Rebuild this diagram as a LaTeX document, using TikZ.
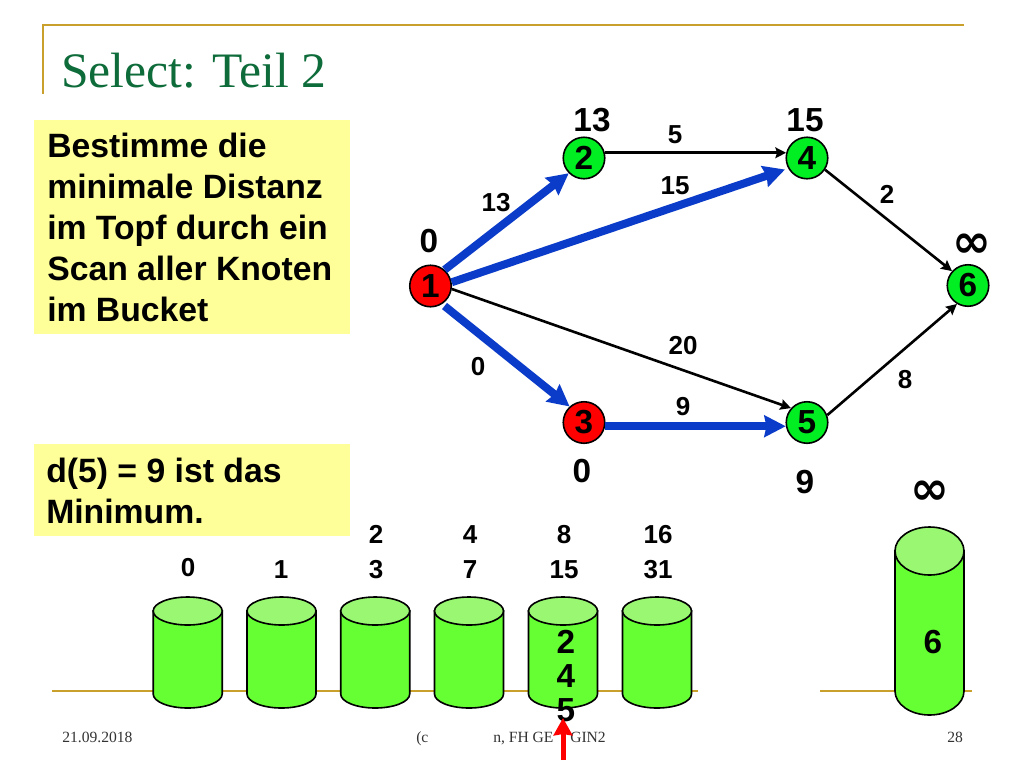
\documentclass[tikz,border=0pt]{standalone}
\usepackage{fontspec}
\setmainfont{Liberation Sans}
\newfontfamily\seriffam{Liberation Serif}
\newfontfamily\symfam{DejaVu Sans}
\usetikzlibrary{arrows.meta,calc}
\definecolor{gold}{HTML}{C9A02C}
\definecolor{titlegreen}{HTML}{0E6B3A}
\definecolor{noteyellow}{HTML}{FFFF99}
\definecolor{drumbody}{HTML}{66FF33}
\definecolor{drumtop}{HTML}{99F772}
\definecolor{nodegreen}{HTML}{00EE22}
\definecolor{edgeblue}{HTML}{0B3CC9}
\tikzset{
  gline/.style={draw=gold,line width=2.8*0.75pt},
  notebox/.style={fill=noteyellow,anchor=north west,inner sep=0pt,minimum width=316*0.75pt},
  notetext/.style={anchor=north west,inner sep=0pt,align=left,font=\fontsize{25.3}{30.75}\selectfont\bfseries},
  vertex/.style={circle,draw=black,line width=1.6*0.75pt,minimum size=41.5*0.75pt,inner sep=0pt,font=\fontsize{25}{25}\selectfont\bfseries},
  redv/.style={vertex,fill=red},
  greenv/.style={vertex,fill=nodegreen},
  distlab/.style={inner sep=0pt,font=\fontsize{25}{25}\selectfont\bfseries},
  weightlab/.style={inner sep=0pt,font=\fontsize{19.5}{19.5}\selectfont\bfseries},
  rangelab/.style={inner sep=0pt,align=center,font=\fontsize{19.5}{26.2}\selectfont\bfseries},
  inflab/.style={inner sep=0pt,font=\fontsize{35}{35}\symfam\bfseries\selectfont},
  thin edge/.style={draw=black,line width=2.6*0.75pt,-{Stealth[length=8pt,width=8pt,inset=1.2pt]}},
  blue edge/.style={draw=edgeblue,line width=8*0.75pt,-{Stealth[length=16pt,width=16pt,inset=1.5pt]}},
  drumline/.style={draw=black,line width=1.6*0.75pt},
  footlab/.style={inner sep=0pt,anchor=base west,font=\fontsize{11.7}{12}\seriffam\selectfont,text=black!80},
}
% #1 centre x, #2 top of the lid, #3 bottom, #4 half width, #5 half height of the lid
\newcommand{\drumshape}[5]{
  \path[fill=drumbody,drumline] (#1-#4,#2+#5) -- (#1-#4,#3-#5) arc[start angle=180,end angle=0,x radius=#4,y radius=#5] -- (#1+#4,#2+#5) -- cycle;
  \path[fill=drumtop,drumline] (#1,#2+#5) ellipse[x radius=#4,y radius=#5];
}
\begin{document}
\begin{tikzpicture}[x=0.75pt,y=-0.75pt]
\useasboundingbox (0,0) rectangle (1024,768);
\fill[white] (0,0) rectangle (1024,768);
% slide frame
\draw[gline] (43,94) -- (43,25) -- (964,25);
\draw[gline] (52,691) -- (698,691);
\draw[gline] (820,691) -- (972,691);
\node[inner sep=0pt,anchor=base west,text=titlegreen,font=\fontsize{37.2}{38}\seriffam\selectfont] (title) at (61,87) {Select: Teil 2};
% footer
\node[footlab] (fdate) at (62,742) {21.09.2018};
\node[footlab] (fa) at (416,742) {(c};
\node[footlab] (fb) at (493,742) {n, FH GE};
\node[footlab] (fc) at (570,742) {GIN2};
\node[footlab] (fnum) at (947,742) {28};
% notes
\node[notebox,minimum height=214*0.75pt] (note1box) at (34,120) {};
\node[notetext] (note1) at (47,133) {Bestimme die\\minimale Distanz\\im Topf durch ein\\Scan aller Knoten\\im Bucket};
\node[notebox,minimum height=92*0.75pt] (note2box) at (34,444) {};
\node[notetext] (note2) at (46,458) {d(5) = 9 ist das\\Minimum.};
% graph
\node[redv] (n1) at (430.5,286) {1};
\node[greenv] (n2) at (584,158) {2};
\node[redv] (n3) at (584,422.5) {3};
\node[greenv] (n4) at (807,158) {4};
\node[greenv] (n5) at (807,422.5) {5};
\node[greenv] (n6) at (968,285.5) {6};
\draw[blue edge] (n1.49) -- (n2.225);
\draw[blue edge,shorten >=2.5pt] (n1.10) -- (n4.209);
\draw[blue edge] ($(n1)+(14,20)$) -- (n3.132);
\draw[blue edge] (n3.-10) -- (n5.190);
\draw[thin edge] (n2.14) -- (n4.166);
\draw[thin edge] (n1.-8) -- (n5.138);
\draw[thin edge] (n4.-33) -- (n6.138);
\draw[thin edge] (n5.20) -- (n6.239);
% distances
\node[distlab] (d1) at (429,241) {0};
\node[distlab] (d2) at (592,120) {13};
\node[distlab] (d3) at (582,471) {0};
\node[distlab] (d4) at (805,120) {15};
\node[distlab] (d5) at (805,482) {9};
\node[inflab] (d6) at (972,246) {∞};
% weights
\node[weightlab] (w12) at (496,203) {13};
\node[weightlab] (w24) at (675,135) {5};
\node[weightlab] (w14) at (675,186) {15};
\node[weightlab] (w46) at (887,194) {2};
\node[weightlab] (w13) at (478,367) {0};
\node[weightlab] (w15) at (683,346) {20};
\node[weightlab] (w35) at (683,407) {9};
\node[weightlab] (w56) at (905,380) {8};
% buckets
\drumshape{187.7}{597}{708}{34.5}{14}
\drumshape{281.5}{597}{708}{34.5}{14}
\drumshape{375.2}{597}{708}{34.5}{14}
\drumshape{469}{597}{708}{34.5}{14}
\drumshape{563}{597}{708}{34.5}{14}
\drumshape{657}{597}{708}{34.5}{14}
\drumshape{929.5}{527}{715}{34.5}{24}
\node[rangelab] (r0) at (188,568) {0};
\node[rangelab] (r1) at (281,570) {1};
\node[rangelab] (r2) at (376,552) {2\\3};
\node[rangelab] (r3) at (470,552) {4\\7};
\node[rangelab] (r4) at (564,552) {8\\15};
\node[rangelab] (r5) at (658,552) {16\\31};
\node[inflab] (rinf) at (929.5,493) {∞};
\node[inner sep=0pt,align=center,font=\fontsize{25}{25.5}\selectfont\bfseries] (b4) at (566,676) {2\\4\\5};
\node[distlab] (b6) at (933,642) {6};
% pointer
\coordinate (ptail) at (563,760);
\coordinate (phead) at (563,718);
\draw[draw=red,line width=5*0.75pt,-{Stealth[length=13pt,width=14pt,inset=1pt]}] (ptail) -- (phead);
\end{tikzpicture}
\end{document}
